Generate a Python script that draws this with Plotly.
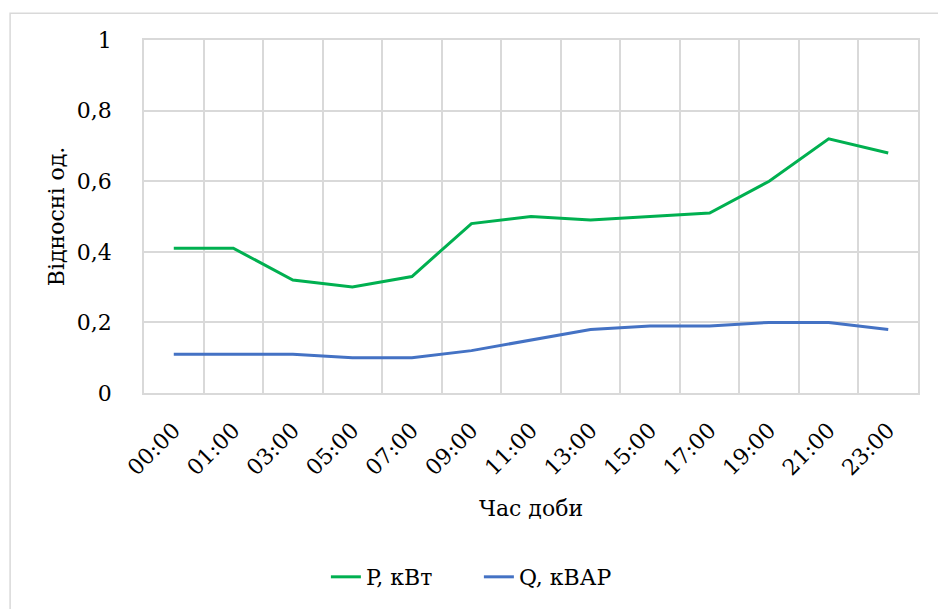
import plotly.graph_objects as go

hours = ["00:00", "01:00", "03:00", "05:00", "07:00", "09:00", "11:00",
         "13:00", "15:00", "17:00", "19:00", "21:00", "23:00"]
p_kw = [0.41, 0.41, 0.32, 0.30, 0.33, 0.48, 0.50, 0.49, 0.50, 0.51, 0.60, 0.72, 0.68]
q_kvar = [0.11, 0.11, 0.11, 0.10, 0.10, 0.12, 0.15, 0.18, 0.19, 0.19, 0.20, 0.20, 0.18]

FONT = "DejaVu Serif"
FS = 22
GRID = "#D9D9D9"

fig = go.Figure()
fig.add_trace(go.Scatter(x=hours, y=p_kw, mode="lines", name="P, кВт",
                         line=dict(color="#00B050", width=3)))
fig.add_trace(go.Scatter(x=hours, y=q_kvar, mode="lines", name="Q, кВАР",
                         line=dict(color="#4472C4", width=3)))

fig.update_layout(
    width=938, height=609,
    margin=dict(l=144, r=20, t=40, b=215),
    paper_bgcolor="white", plot_bgcolor="white",
    separators=", ",
    font=dict(family=FONT, size=FS, color="#000000"),
    showlegend=True,
    legend=dict(orientation="h", x=0.235, xanchor="left", y=-0.517, yanchor="middle",
                font=dict(family=FONT, size=FS), entrywidth=108, entrywidthmode="pixels"),
    shapes=[dict(type="rect", xref="paper", yref="paper",
                 x0=-0.173, x1=1.03, y0=-0.75, y1=1.076,
                 line=dict(color=GRID, width=1.5), layer="below")],
)
fig.update_xaxes(
    type="category", categoryorder="array", categoryarray=hours,
    range=[-0.5, len(hours) - 0.5], automargin=False,
    tickson="boundaries", showgrid=True, gridcolor=GRID, gridwidth=1.5,
    showline=True, linecolor=GRID, linewidth=1.5, mirror=True,
    tickangle=-45, ticks="", ticklabelstandoff=14,
    tickfont=dict(family=FONT, size=FS),
    title=dict(text="Час доби", font=dict(family=FONT, size=FS), standoff=21),
)
fig.update_yaxes(
    range=[0, 1], dtick=0.2, tick0=0, automargin=False,
    showgrid=True, gridcolor=GRID, gridwidth=1.5,
    showline=True, linecolor=GRID, linewidth=1.5, mirror=True,
    zeroline=False, ticks="", ticklabelstandoff=26,
    tickfont=dict(family=FONT, size=FS),
    title=dict(text="Відносні од.", font=dict(family=FONT, size=FS), standoff=6),
)

fig.write_html("out.html", config={"displayModeBar": False},
               post_script="document.body.style.margin='0';")
